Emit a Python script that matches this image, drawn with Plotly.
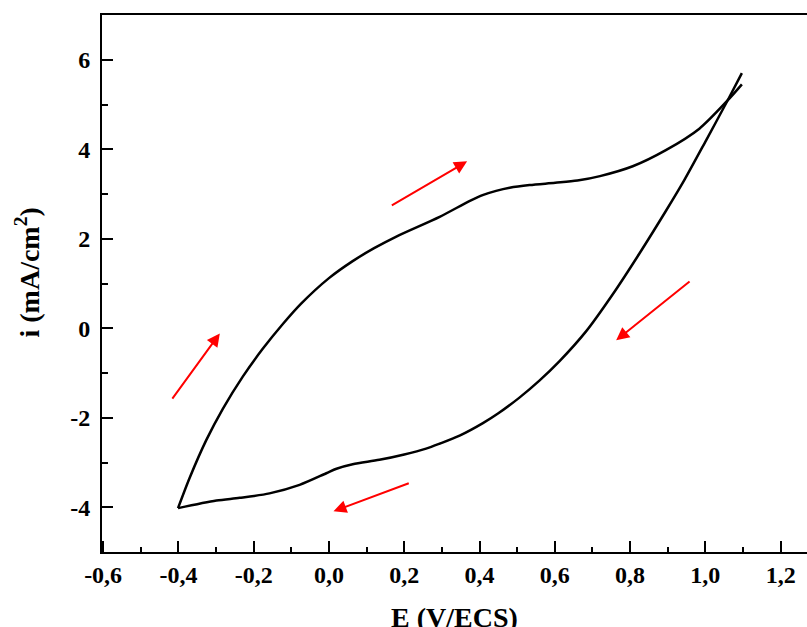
import plotly.graph_objects as go

# Cyclic voltammogram: forward (anodic) and reverse (cathodic) scans
E_forward = [-0.401, -0.370, -0.326, -0.282, -0.229, -0.176, -0.122, -0.074, 0.000,
             0.063, 0.120, 0.179, 0.294, 0.373, 0.410, 0.444, 0.480, 0.533, 0.601,
             0.660, 0.720, 0.807, 0.895, 0.984, 1.059, 1.097]
i_forward = [-4.02, -3.34, -2.50, -1.80, -1.08, -0.46, 0.10, 0.55, 1.12,
             1.50, 1.79, 2.05, 2.49, 2.84, 2.98, 3.07, 3.14, 3.20, 3.25,
             3.30, 3.40, 3.62, 3.98, 4.46, 5.09, 5.45]

E_reverse = [1.097, 1.059, 1.002, 0.944, 0.895, 0.824, 0.754, 0.683, 0.612, 0.559,
             0.506, 0.450, 0.409, 0.347, 0.294, 0.258, 0.200, 0.134, 0.063, 0.020,
             -0.007, -0.078, -0.158, -0.237, -0.299, -0.401]
i_reverse = [5.70, 5.09, 4.20, 3.31, 2.62, 1.66, 0.76, -0.07, -0.74, -1.17,
             -1.55, -1.90, -2.12, -2.40, -2.58, -2.69, -2.82, -2.94, -3.04, -3.14,
             -3.24, -3.50, -3.69, -3.79, -3.85, -4.02]

# Scan-direction arrows: (tail E, tail i, head E, head i)
arrow_tail_E = [-0.419, 0.163, 0.962, 0.216]
arrow_tail_i = [-1.605, 2.725, 1.07, -3.45]
arrow_head_E = [-0.290, 0.367, 0.763, 0.012]
arrow_head_i = [-0.116, 3.73, -0.27, -4.09]

x_tick_vals = [-0.6, -0.4, -0.2, 0.0, 0.2, 0.4, 0.6, 0.8, 1.0, 1.2]
x_tick_text = ["-0,6", "-0,4", "-0,2", "0,0", "0,2", "0,4", "0,6", "0,8", "1,0", "1,2"]
x_minor_vals = [-0.5, -0.3, -0.1, 0.1, 0.3, 0.5, 0.7, 0.9, 1.1]
y_tick_vals = [-4, -2, 0, 2, 4, 6]
y_tick_text = ["-4", "-2", "0", "2", "4", "6"]
y_minor_vals = [-3, -1, 1, 3, 5]

FONT = "Liberation Serif"

fig = go.Figure()
for E, i in [(E_forward, i_forward), (E_reverse, i_reverse)]:
    fig.add_trace(go.Scatter(
        x=E, y=i, mode="lines",
        line=dict(color="black", width=2.5, shape="spline", smoothing=0.8),
        showlegend=False, hoverinfo="skip",
    ))

for tx, ty, hx, hy in zip(arrow_tail_E, arrow_tail_i, arrow_head_E, arrow_head_i):
    fig.add_annotation(
        x=hx, y=hy, ax=tx, ay=ty, xref="x", yref="y", axref="x", ayref="y",
        text="", showarrow=True, arrowhead=2, arrowsize=1.3, arrowwidth=2,
        arrowcolor="red", standoff=0, startstandoff=0,
    )

# Axis titles
fig.add_annotation(
    text="<b>i (mA/cm<sup>2</sup>)</b>", textangle=-90,
    xref="paper", yref="paper", x=-0.106, y=0.521,
    xanchor="center", yanchor="middle", showarrow=False,
    font=dict(family=FONT, size=28, color="black"),
)
fig.add_annotation(
    text="<b>E (V/ECS)</b>",
    xref="paper", yref="paper", x=0.5, y=-0.122,
    xanchor="center", yanchor="middle", showarrow=False,
    font=dict(family=FONT, size=28, color="black"),
)

axis_common = dict(
    showline=True, linecolor="black", linewidth=2,
    ticks="inside", ticklen=11, tickwidth=2, tickcolor="black",
    showgrid=False, zeroline=False, automargin=False,
    tickfont=dict(family=FONT, size=24, color="black", weight="bold"),
)

fig.update_layout(
    width=807, height=627,
    margin=dict(l=102, r=0, t=15, b=75),
    paper_bgcolor="white", plot_bgcolor="white",
    font=dict(family=FONT, color="black"),
    xaxis=dict(
        range=[-0.603, 1.27], tickmode="array",
        tickvals=x_tick_vals, ticktext=x_tick_text, mirror=True,
        minor=dict(tickvals=x_minor_vals, ticks="inside", ticklen=5,
                   tickwidth=2, tickcolor="black"),
        **axis_common,
    ),
    yaxis=dict(
        range=[-5, 7], tickmode="array",
        tickvals=y_tick_vals, ticktext=y_tick_text, mirror=False,
        ticklabelstandoff=5,
        minor=dict(tickvals=y_minor_vals, ticks="inside", ticklen=6,
                   tickwidth=2, tickcolor="black"),
        **axis_common,
    ),
)

fig.write_html("out.html")
